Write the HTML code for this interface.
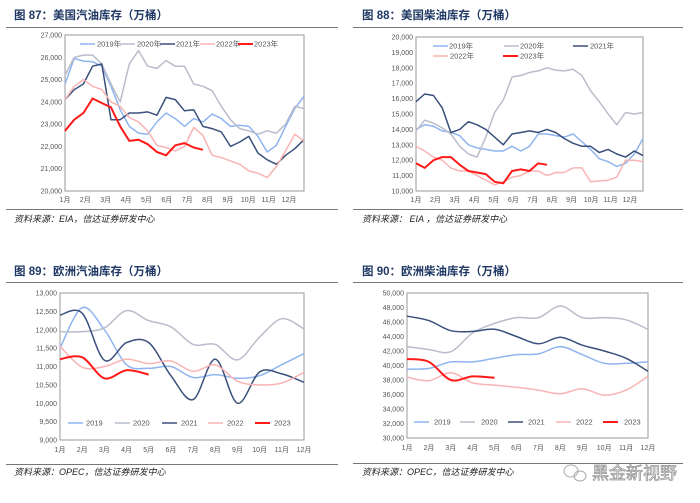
<!DOCTYPE html>
<html><head><meta charset="utf-8">
<style>
html,body{margin:0;padding:0;background:#fff;}
svg{display:block;font-family:"Liberation Sans","Noto Sans CJK SC",sans-serif;}
.t{font-size:11.5px;font-weight:bold;fill:#1f3864;}
.src{font-size:9px;font-style:italic;fill:#222;}
.tick{font-size:7px;fill:#555;}
.leg{font-size:7.5px;fill:#555;}
</style></head>
<body>
<svg id="s" width="700" height="503" viewBox="0 0 700 503" xmlns="http://www.w3.org/2000/svg">
<text class="t" x="14" y="19">图 87：美国汽油库存（万桶）</text>
<line x1="6" y1="27.5" x2="338" y2="27.5" stroke="#777" stroke-width="1"/>
<text class="src" x="14" y="222">资料来源：EIA，信达证券研发中心</text>
<line x1="6" y1="209.5" x2="338" y2="209.5" stroke="#777"/>

<text class="t" x="362" y="19">图 88：美国柴油库存（万桶）</text>
<line x1="353" y1="27.5" x2="683" y2="27.5" stroke="#777"/>
<text class="src" x="362" y="222">资料来源： EIA ，信达证券研发中心</text>
<line x1="353" y1="209.5" x2="683" y2="209.5" stroke="#777"/>

<text class="t" x="14" y="275">图 89：欧洲汽油库存（万桶）</text>
<line x1="6" y1="282.5" x2="338" y2="282.5" stroke="#777"/>
<text class="src" x="14" y="475">资料来源：OPEC，信达证券研发中心</text>
<line x1="6" y1="464.5" x2="338" y2="464.5" stroke="#777"/>

<text class="t" x="362" y="275">图 90：欧洲柴油库存（万桶）</text>
<line x1="353" y1="282.5" x2="683" y2="282.5" stroke="#777"/>
<text class="src" x="362" y="475">资料来源：OPEC，信达证券研发中心</text>
<line x1="353" y1="463.5" x2="683" y2="463.5" stroke="#777"/>

<g>
<ellipse cx="571" cy="471" rx="7" ry="6" fill="none" stroke="#aaa" stroke-width="1"/>
<ellipse cx="580" cy="476" rx="6" ry="5" fill="none" stroke="#aaa" stroke-width="1"/>
<text x="592" y="479" font-size="17" fill="#fff" stroke="#999" stroke-width="0.8">黑金新视野</text>
</g>
<g id="charts"></g>
</svg>
<script>
// ---- data ----
const months = ["1月","2月","3月","4月","5月","6月","7月","8月","9月","10月","11月","12月"];
const seriesNames = ["2019","2020","2021","2022","2023"];
const colors = ["#8fb4f0","#b9bdcb","#3b4f7c","#f8b4b4","#ff1a1a"];
// Fig87: biweekly samples (week 0,2,...,52)
const g19 = [24800,25950,25830,25800,25600,24700,23650,22900,22600,22550,23100,23500,23250,22900,23250,23100,23450,23250,22900,22950,22900,22450,21750,22050,22900,23700,24250];
const g20 = [25200,26000,26100,26100,25700,24800,24000,25700,26300,25600,25500,25850,25600,25600,24800,24700,24500,23800,23200,22800,22700,22550,22700,22600,23000,23800,23700];
const g21 = [24100,24550,24800,25600,25700,23200,23200,23500,23500,23550,23400,24200,24100,23600,23650,22900,22800,22650,22000,22200,22450,21700,21400,21200,21600,21900,22300];
const g22 = [24100,24700,25000,24700,24550,24000,23800,23300,23100,22700,22050,21950,21800,22000,22850,22500,21600,21500,21350,21200,20900,20800,20600,21100,21800,22550,22250];
const g23 = [22700,23200,23500,24150,23950,23750,22900,22250,22300,22100,21750,21600,22050,22150,21950,21850];
const gTicks = [20000,21000,22000,23000,24000,25000,26000,27000];
// Fig88
const d19 = [14000,14300,14200,13900,13800,13600,13000,12800,12700,12600,12600,12900,12600,12900,13700,13700,13600,13500,13700,13200,12700,12100,11900,11600,11800,12400,13400];
const d20 = [13900,14600,14400,14100,13700,12900,12400,12200,13500,15100,15900,17400,17500,17700,17800,18000,17850,17800,17900,17500,16500,15800,15000,14300,15100,15000,15100];
const d21 = [15800,16300,16200,15400,13800,14000,14500,14300,14000,13500,13000,13700,13800,13900,13800,14000,13800,13400,13100,12900,12900,12500,12700,12400,12200,12600,12300];
const d22 = [12900,12600,12200,12000,11500,11300,11300,11000,10700,10400,10600,10900,11000,11300,11300,11000,11200,11200,11500,11500,10600,10650,10700,10900,12000,12000,11900];
const d23 = [11800,11500,12000,12200,12200,11700,11300,11200,11100,10600,10500,11300,11400,11300,11800,11700];
const dTicks = [10000,11000,12000,13000,14000,15000,16000,17000,18000,19000,20000];
// Fig89 monthly
const eg19 = [11500,12600,12000,11050,10950,11000,10700,10780,10680,10750,11050,11350];
const eg20 = [11950,11950,12050,12520,12250,12080,11600,11600,11180,11800,12300,12020];
const eg21 = [12400,12450,11170,11650,11650,10750,10100,11200,10000,10850,10800,10570];
const eg22 = [11550,10980,11000,11200,11080,11150,10870,11040,10600,10500,10550,10840];
const eg23 = [11200,11250,10680,10900,10780];
const egTicks = [9000,9500,10000,10500,11000,11500,12000,12500,13000];
// Fig90 monthly
const ed19 = [39500,39600,40500,40500,41000,41500,41600,42600,41500,40300,40300,40500];
const ed20 = [42600,42200,41900,44500,45800,46600,46600,48200,46600,46600,46300,45000];
const ed21 = [46800,46200,44800,44700,45000,44000,43000,43900,42800,42000,41000,39200];
const ed22 = [38400,37900,39000,37600,37300,37000,36600,36100,36800,35900,36600,38500];
const ed23 = [40900,40500,38000,38500,38300];
const edTicks = [30000,32000,34000,36000,38000,40000,42000,44000,46000,48000,50000];

const NS = "http://www.w3.org/2000/svg";
const root = document.getElementById("charts");
function mk(tag, attrs, parent){const e=document.createElementNS(NS,tag);for(const k in attrs)e.setAttribute(k,attrs[k]);(parent||root).appendChild(e);return e;}
function fmt(v){return v.toLocaleString("en-US");}
function smoothPath(pts){
  let d="M"+pts[0][0].toFixed(1)+","+pts[0][1].toFixed(1);
  for(let i=0;i<pts.length-1;i++){
    const p0=pts[Math.max(0,i-1)],p1=pts[i],p2=pts[i+1],p3=pts[Math.min(pts.length-1,i+2)];
    const c1x=p1[0]+(p2[0]-p0[0])/6,c1y=p1[1]+(p2[1]-p0[1])/6,c2x=p2[0]-(p3[0]-p1[0])/6,c2y=p2[1]-(p3[1]-p1[1])/6;
    d+=" C"+c1x.toFixed(1)+","+c1y.toFixed(1)+" "+c2x.toFixed(1)+","+c2y.toFixed(1)+" "+p2[0].toFixed(1)+","+p2[1].toFixed(1);
  }
  return d;
}
function drawChart(cfg){
  const g=mk("g",{});
  
  
  const {x0,x1,y0,y1,min,max}=cfg;
  const ys=v=>y1-(v-min)/(max-min)*(y1-y0);
  const frame=mk("rect",{x:x0,y:y0,width:x1-x0,height:y1-y0,fill:"none",stroke:"#9a9a9a","stroke-width":1},g);
  
  
  cfg.ticks.forEach(t=>{
    const tx=mk("text",{x:x0-3,y:ys(t)+2.5,"text-anchor":"end",class:"tick"},g);
    tx.textContent=fmt(t);
    
    
  });
  months.forEach((m,i)=>{
    const mx=cfg.monthX(i);
    const tx=mk("text",{x:mx,y:cfg.monthY,"text-anchor":"middle",class:"tick"},g);
    tx.textContent=m;
    
    
  });
  cfg.series.forEach((s,k)=>{
    const pts=s.map((v,i)=>[cfg.xs(i),ys(v)]);
    const d=cfg.smooth?smoothPath(pts):"M"+pts.map(p=>p[0].toFixed(1)+","+p[1].toFixed(1)).join(" L");
    const p=mk("path",{d:d,fill:"none",stroke:colors[k],"stroke-width":k===4?2:1.5,"stroke-linejoin":"round"},g);
    
    
  });
  cfg.legend.forEach((L,k)=>{
    const ln=mk("line",{x1:L[0],y1:L[2],x2:L[0]+15,y2:L[2],stroke:colors[k],"stroke-width":k===4?2:1.5},g);
    
    
    const tx=mk("text",{x:L[1],y:L[2]+2.7,class:"leg"},g);
    tx.textContent=seriesNames[k]+cfg.suffix;
    
    
  });
}
// Fig 87
drawChart({name:"chart-us-gasoline",x0:65,x1:304,y0:35,y1:191,min:20000,max:27000,ticks:gTicks,
  xs:i=>65+i*2*(239/52),monthX:i=>65+i*(224/11),monthY:202,smooth:false,suffix:"年",
  series:[g19,g20,g21,g22,g23],
  legend:[[80,97,44],[120,137,44],[160,176,44],[200,216,44],[238,254,44]]});
// Fig 88
drawChart({name:"chart-us-diesel",x0:416,x1:643,y0:37,y1:191,min:10000,max:20000,ticks:dTicks,
  xs:i=>416+i*2*(227/52),monthX:i=>416+i*(214/11),monthY:202,smooth:false,suffix:"年",
  series:[d19,d20,d21,d22,d23],
  legend:[[433,449,46],[504,520,46],[573,590,46],[433,450,56],[503,520,56]]});
// Fig 89
drawChart({name:"chart-eu-gasoline",x0:60,x1:304,y0:293,y1:440,min:9000,max:13000,ticks:egTicks,
  xs:i=>60+i*(244/11),monthX:i=>60+i*(244/11),monthY:452,smooth:true,suffix:"",
  series:[eg19,eg20,eg21,eg22,eg23],
  legend:[[68,86,423],[115,133,423],[162,181,423],[208,227,423],[255,274,423]]});
// Fig 90
drawChart({name:"chart-eu-diesel",x0:407,x1:648,y0:293,y1:438,min:30000,max:50000,ticks:edTicks,
  xs:i=>407+i*(241/11),monthX:i=>407+i*(241/11),monthY:450,smooth:true,suffix:"",
  series:[ed19,ed20,ed21,ed22,ed23],
  legend:[[414,434,422],[460,481,422],[508,528,422],[556,576,422],[603,624,422]]});
</script>
</body></html>
